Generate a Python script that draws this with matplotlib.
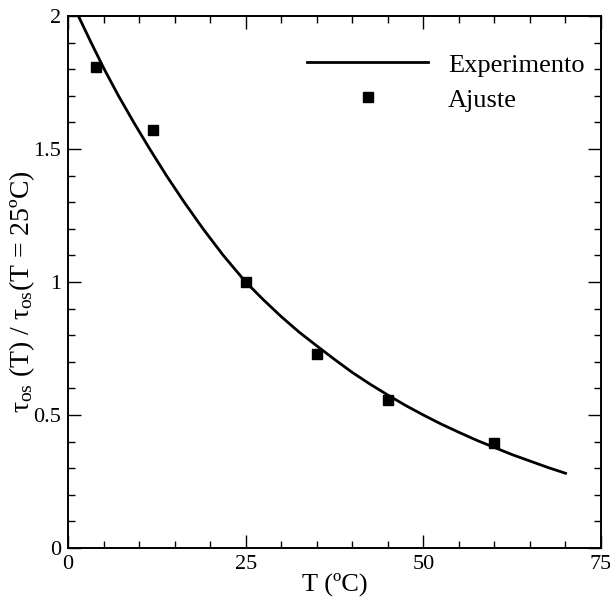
import numpy as np
from matplotlib import pyplot as plt
from matplotlib.ticker import MultipleLocator, FuncFormatter

plt.rcParams['font.family'] = ['Liberation Serif', 'DejaVu Serif']
plt.rcParams['mathtext.fontset'] = 'custom'
plt.rcParams['mathtext.rm'] = 'Liberation Serif'
plt.rcParams['mathtext.it'] = 'Liberation Serif'

# fitted curve (tau ratio vs temperature)
T_curve = [1.46, 3.25, 5.1, 7.1, 9.25, 11.5, 13.85, 16.35, 19.0, 21.85, 25.0,
           27.5, 30.0, 32.5, 35.0, 37.5, 40.0, 42.5, 45.0, 47.5, 50.0,
           52.5, 55.0, 57.5, 60.0, 62.5, 65.0, 67.5, 70.0]
tau_curve = [2.0, 1.9, 1.8, 1.7, 1.6, 1.5, 1.4, 1.3, 1.2, 1.1, 1.0,
             0.933, 0.87, 0.812, 0.76, 0.709, 0.66, 0.616, 0.575, 0.536, 0.50,
             0.466, 0.435, 0.405, 0.378, 0.351, 0.327, 0.303, 0.281]

# measured points
T_pts = [4, 12, 25, 35, 45, 60]
tau_pts = [1.81, 1.57, 1.00, 0.73, 0.555, 0.395]

fig = plt.figure(figsize=(6.10, 6.04), dpi=100)
ax = fig.add_axes([0.1115, 0.0927, 0.8738, 0.8808])

ax.plot(T_curve, tau_curve, color='black', lw=2.0, label='Experimento')
ax.plot(T_pts, tau_pts, 's', color='black', ms=7.5, ls='none', label='Ajuste')

ax.set_xlim(0, 75)
ax.set_ylim(0, 2)
ax.xaxis.set_major_locator(MultipleLocator(25))
ax.xaxis.set_minor_locator(MultipleLocator(5))
ax.yaxis.set_major_locator(MultipleLocator(0.5))
ax.yaxis.set_minor_locator(MultipleLocator(0.1))
fmt = FuncFormatter(lambda v, pos: '%g' % v)
ax.xaxis.set_major_formatter(fmt)
ax.yaxis.set_major_formatter(fmt)

ax.tick_params(which='both', direction='in', top=True, right=True,
               width=1.0, labelsize=16, pad=5)
ax.tick_params(which='major', length=9.5)
ax.tick_params(which='minor', length=5)
for s in ax.spines.values():
    s.set_linewidth(1.4)

ax.set_xlabel('T (ºC)', fontsize=19, labelpad=-1)
ax.set_ylabel(r'$\tau_{\mathrm{os}}$ (T) / $\tau_{\mathrm{os}}$(T = 25ºC)',
              fontsize=20)
ax.yaxis.set_label_coords(-0.059, 0.481)

ax.legend(loc='upper left', bbox_to_anchor=(0.448, 0.93), frameon=False,
          fontsize=19, handlelength=4.6, handletextpad=0.75, borderpad=0,
          borderaxespad=0, labelspacing=0.43)

plt.savefig('out.png', dpi=100)
